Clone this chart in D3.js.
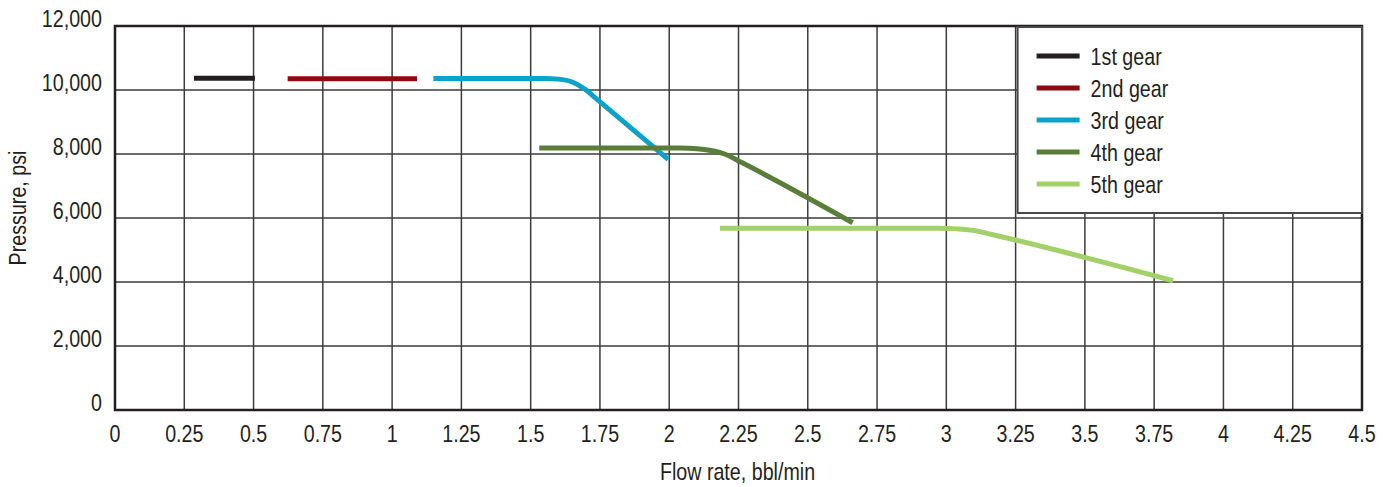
<!DOCTYPE html>
<html>
<head>
<meta charset="utf-8">
<script src="https://cdn.jsdelivr.net/npm/d3@7"></script>
<style>
  body { margin: 0; background: #fff; }
  svg text { font-family: "Liberation Sans", Arial, sans-serif; fill: #231f20; }
</style>
</head>
<body>
<div id="chart"></div>
<script>
// gear curves: flow rate (bbl/min) vs pressure (psi)
const gear1 = [[0.285, 10370], [0.505, 10370]];
const gear2 = [[0.623, 10350], [1.09, 10350]];
const gear3 = [[1.149, 10360], [1.55, 10360], [1.60, 10340], [1.65, 10250], [1.70, 10000], [1.73, 9780], [1.996, 7830]];
const gear4 = [[1.531, 8185], [2.04, 8185], [2.10, 8165], [2.15, 8110], [2.20, 8000], [2.26, 7740], [2.662, 5853]];
const gear5 = [[2.183, 5680], [2.97, 5680], [3.04, 5660], [3.10, 5610], [3.16, 5493], [3.818, 4040]];

const gearNames = ['1st gear', '2nd gear', '3rd gear', '4th gear', '5th gear'];
const gearColors = ['#231f20', '#8c0a10', '#0aa2c8', '#5a7d3a', '#a2d06a'];
const gears = [gear1, gear2, gear3, gear4, gear5];

const xTicks = [0, 0.25, 0.5, 0.75, 1, 1.25, 1.5, 1.75, 2, 2.25, 2.5, 2.75, 3, 3.25, 3.5, 3.75, 4, 4.25, 4.5];
const yTicks = [0, 2000, 4000, 6000, 8000, 10000, 12000];

const W = 1391, H = 487;
const margin = {top: 26, right: 29, bottom: 77, left: 115};
const width = W - margin.left - margin.right,
      height = H - margin.top - margin.bottom;

// condensed look: squeeze text horizontally
const narrow = 0.82;
const place = (px, py) => 'translate(' + px + ',' + py + ') scale(' + narrow + ',1)';

const x = d3.scaleLinear().domain([0, 4.5]).range([0, width]);
const y = d3.scaleLinear().domain([0, 12000]).range([height, 0]);

const svgroot = d3.select('#chart').append('svg')
      .attr('width', W).attr('height', H);
const svg = svgroot.append('g')
      .attr('transform', 'translate(' + margin.left + ',' + margin.top + ')');

// grid
svg.selectAll('.vgrid').data(xTicks).enter()
    .append('line').attr('class', 'vgrid')
    .attr('x1', x).attr('x2', x)
    .attr('y1', 0).attr('y2', height)
    .attr('stroke', '#3d3b3c').attr('stroke-width', 1.5);
svg.selectAll('.hgrid').data(yTicks).enter()
    .append('line').attr('class', 'hgrid')
    .attr('x1', 0).attr('x2', width)
    .attr('y1', y).attr('y2', y)
    .attr('stroke', '#3d3b3c').attr('stroke-width', 1.5);

// frame
svg.append('rect')
    .attr('width', width).attr('height', height)
    .attr('fill', 'none').attr('stroke', '#231f20').attr('stroke-width', 2.5);

// tick labels
const fmt = d3.format(',');
svg.selectAll('.ylab').data(yTicks).enter()
    .append('text').attr('class', 'ylab')
    .attr('transform', d => place(-13, y(d) + 1))
    .attr('text-anchor', 'end')
    .attr('font-size', 24)
    .text(fmt);
svg.selectAll('.xlab').data(xTicks).enter()
    .append('text').attr('class', 'xlab')
    .attr('transform', d => place(x(d), height + 32))
    .attr('text-anchor', 'middle')
    .attr('font-size', 24)
    .text(d => d);

// axis titles
svg.append('text')
    .attr('transform', place(width / 2 - 1, height + 70))
    .attr('text-anchor', 'middle')
    .attr('font-size', 24)
    .text('Flow rate, bbl/min');
svg.append('text')
    .attr('transform', 'translate(-89,' + (height / 2 - 10) + ') rotate(-90) scale(' + narrow + ',1)')
    .attr('text-anchor', 'middle')
    .attr('font-size', 24)
    .text('Pressure, psi');

// legend
const legend = svg.append('g')
      .attr('transform', 'translate(' + (x(3.25) + 2) + ',1)');
legend.append('rect')
    .attr('width', width - x(3.25) - 2).attr('height', 186)
    .attr('fill', '#fff').attr('stroke', '#4a4849').attr('stroke-width', 2);
const items = legend.selectAll('.item').data(gearNames).enter()
      .append('g').attr('class', 'item')
      .attr('transform', (d, i) => 'translate(0,' + (29 + i * 32) + ')');
items.append('line')
    .attr('x1', 19).attr('x2', 62)
    .attr('stroke', (d, i) => gearColors[i]).attr('stroke-width', 5);
items.append('text')
    .attr('transform', place(73, 9))
    .attr('font-size', 24)
    .text(d => d);

// gear lines
const line = d3.line()
      .x(d => x(d[0])).y(d => y(d[1]))
      .curve(d3.curveMonotoneX);
svg.selectAll('.gear').data(gears).enter()
    .append('path').attr('class', 'gear')
    .attr('d', line)
    .attr('fill', 'none')
    .attr('stroke', (d, i) => gearColors[i])
    .attr('stroke-width', 5);
</script>
</body>
</html>
